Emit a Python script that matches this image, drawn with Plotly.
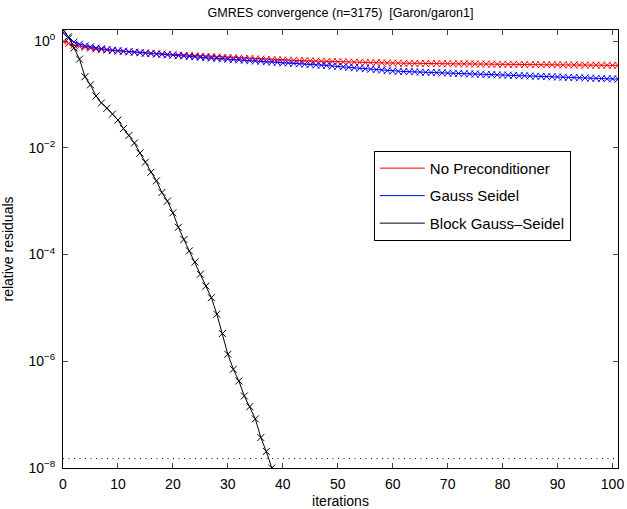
import plotly.graph_objects as go

iterations = list(range(0, 102))

no_precond = [
    0.977, 0.891, 0.832, 0.794, 0.759, 0.733, 0.708, 0.692, 0.676, 0.661, 0.646,
    0.631, 0.624, 0.617, 0.603, 0.596, 0.589, 0.575, 0.569, 0.562, 0.550,
    0.543, 0.537, 0.531, 0.525, 0.519, 0.513, 0.507, 0.501, 0.495, 0.490,
    0.484, 0.479, 0.473, 0.468, 0.462, 0.457, 0.452, 0.447, 0.444, 0.441,
    0.437, 0.434, 0.431, 0.427, 0.424, 0.421, 0.417, 0.414, 0.411, 0.407,
    0.406, 0.403, 0.400, 0.398, 0.395, 0.394, 0.391, 0.389, 0.387, 0.385,
    0.384, 0.382, 0.381, 0.380, 0.379, 0.378, 0.378, 0.377, 0.376, 0.375,
    0.374, 0.373, 0.372, 0.372, 0.371, 0.370, 0.369, 0.368, 0.367, 0.366,
    0.366, 0.365, 0.364, 0.363, 0.362, 0.361, 0.360, 0.359, 0.359, 0.358,
    0.357, 0.356, 0.356, 0.355, 0.354, 0.353, 0.352, 0.352, 0.351, 0.350, 0.349,
]

gauss_seidel = [
    1.430, 1.120, 0.955, 0.871, 0.813, 0.776, 0.741, 0.716, 0.692, 0.676, 0.661,
    0.646, 0.631, 0.617, 0.603, 0.589, 0.582, 0.569, 0.562, 0.550, 0.543,
    0.531, 0.525, 0.513, 0.507, 0.495, 0.490, 0.479, 0.473, 0.462, 0.457,
    0.447, 0.442, 0.437, 0.427, 0.422, 0.417, 0.407, 0.403, 0.398, 0.389,
    0.385, 0.380, 0.372, 0.367, 0.363, 0.355, 0.351, 0.347, 0.339, 0.335,
    0.328, 0.322, 0.315, 0.309, 0.303, 0.297, 0.291, 0.285, 0.279, 0.273,
    0.270, 0.268, 0.266, 0.264, 0.261, 0.259, 0.257, 0.255, 0.253, 0.251,
    0.248, 0.247, 0.244, 0.242, 0.240, 0.238, 0.236, 0.234, 0.232, 0.230,
    0.229, 0.226, 0.224, 0.223, 0.221, 0.219, 0.217, 0.215, 0.213, 0.212,
    0.210, 0.208, 0.207, 0.205, 0.203, 0.201, 0.200, 0.198, 0.196, 0.195, 0.193,
]

block_iterations = list(range(0, 39))
block_gauss_seidel = [
    1.607, 1.202, 0.741, 0.457, 0.214, 0.151, 0.0933, 0.0692, 0.0550, 0.0427,
    0.0331, 0.0229, 0.0170, 0.0123, 0.00794, 0.00537, 0.00347, 0.00240, 0.00145,
    0.00100, 6.03e-4, 3.24e-4, 1.91e-4, 1.17e-4, 7.24e-5, 4.27e-5, 2.57e-5,
    1.55e-5, 7.59e-6, 3.31e-6, 1.35e-6, 7.08e-7, 4.27e-7, 2.24e-7, 1.41e-7,
    8.32e-8, 3.72e-8, 2.04e-8, 1.0e-8,
]

tolerance = 1.5e-8
tol_x = [0, 101]

series_names = ["No Preconditioner", "Gauss Seidel", "Block Gauss\u2013Seidel"]
series_colors = ["#FF0000", "#0000FF", "#000000"]

x_ticks = list(range(0, 101, 10))
y_ticks = [1, 1e-2, 1e-4, 1e-6, 1e-8]
y_ticktext = ["10<sup>0</sup>", "10<sup>\u22122</sup>", "10<sup>\u22124</sup>",
              "10<sup>\u22126</sup>", "10<sup>\u22128</sup>"]

FONT = "Liberation Sans, Arial, Helvetica, sans-serif"

fig = go.Figure()

fig.add_trace(go.Scatter(
    x=tol_x, y=[tolerance, tolerance], mode="lines",
    line=dict(color="black", width=1, dash="1px,4.5px"), showlegend=False,
    hoverinfo="skip"))

data = [(iterations, no_precond), (iterations, gauss_seidel),
        (block_iterations, block_gauss_seidel)]
for (xs, ys), name, col in zip(data, series_names, series_colors):
    fig.add_trace(go.Scatter(
        x=xs, y=ys, mode="lines+markers", showlegend=False,
        line=dict(color=col, width=1),
        marker=dict(symbol="x-thin", size=7, line=dict(color=col, width=1), color=col),
        name=name))

for i, (name, col) in enumerate(zip(series_names, series_colors)):
    fig.add_trace(go.Scatter(
        x=[None], y=[None], mode="lines", name=name,
        line=dict(color=col, width=1), legendgroup=str(i)))

fig.update_layout(
    width=627, height=509,
    margin=dict(l=63, r=9, t=30, b=41, autoexpand=False),
    paper_bgcolor="white", plot_bgcolor="white",
    font=dict(family=FONT, size=13, color="black"),
    title=dict(text="GMRES convergence (n=3175)  [Garon/garon1]",
               x=(63 + 618) / 2 / 627, xanchor="center", y=0.976, yanchor="middle",
               font=dict(size=12.5)),
    legend=dict(x=0.56, y=0.724, xanchor="left", yanchor="top",
                bordercolor="black", borderwidth=1, bgcolor="white",
                font=dict(size=15), tracegroupgap=5,
                itemwidth=45),
    showlegend=True,
)

fig.update_xaxes(
    range=[0, 101], tickvals=x_ticks, ticks="inside", ticklen=5,
    showline=True, mirror="ticks", linecolor="black", linewidth=1,
    showgrid=False, zeroline=False, tickfont=dict(size=14), automargin=False,
    ticklabelstandoff=3,
    title=dict(text="iterations", font=dict(size=14), standoff=6),
)
fig.update_yaxes(
    type="log", range=[-8, 0.206], tickvals=y_ticks, ticktext=y_ticktext,
    ticks="inside", ticklen=5,
    showline=True, mirror="ticks", linecolor="black", linewidth=1,
    showgrid=False, zeroline=False, tickfont=dict(size=14), automargin=False,
    ticklabelstandoff=4,
    title=dict(text="relative residuals", font=dict(size=14), standoff=14),
)

fig.write_html(
    "out.html",
    config={"displayModeBar": False},
    post_script="document.body.style.margin='0';document.body.style.padding='0';"
                "document.body.style.overflow='hidden';",
)
